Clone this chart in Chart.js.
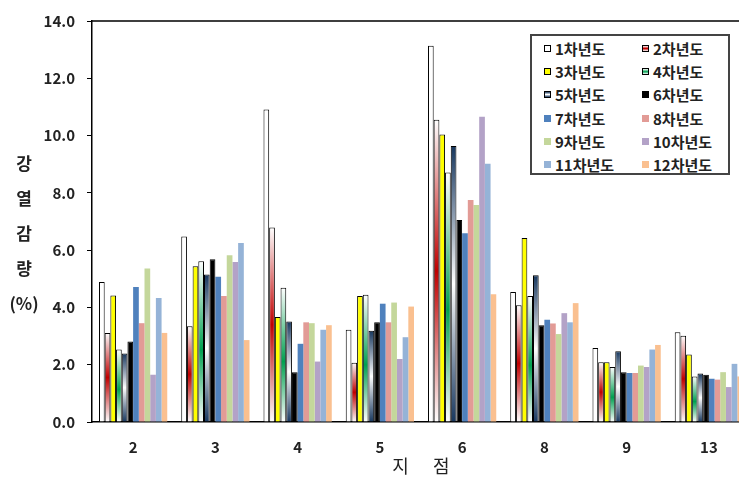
<!DOCTYPE html>
<html>
<head>
<meta charset="utf-8">
<script src="https://cdn.jsdelivr.net/npm/chart.js@4.4.0/dist/chart.umd.min.js"></script>
<style>
  html, body { margin: 0; padding: 0; background: #fff; overflow: hidden; }
  #wrap { position: relative; width: 760px; height: 484px; }
  #yTitle { position: absolute; left: 7px; top: 145px; width: 34px; text-align: center;
    font: bold 17px "Noto Sans CJK KR", sans-serif; color: #222; line-height: 35px; }
  #legend { position: absolute; left: 530px; top: 34px; width: 196px; height: 136px;
    border: 2px solid #444; background: #fff; padding-top: 1px;
    display: grid; grid-template-columns: 98px 98px; grid-auto-rows: 23.2px;
    font: bold 15px "Noto Sans CJK KR", sans-serif; color: #222; }
  #legend .item { display: flex; align-items: center; padding-left: 12px; white-space: nowrap; }
  #legend .box { width: 7px; height: 7px; margin-right: 4px; box-sizing: border-box; }
</style>
</head>
<body>
<div id="wrap">
  <canvas id="chart" width="760" height="484"></canvas>
  <div id="yTitle"><div>강</div><div>열</div><div>감</div><div>량</div><div>(%)</div></div>
  <div id="legend"></div>
</div>
<script>
const sites = ["2", "3", "4", "5", "6", "8", "9", "13"];
const yearNames = ["1차년도", "2차년도", "3차년도", "4차년도", "5차년도", "6차년도",
                   "7차년도", "8차년도", "9차년도", "10차년도", "11차년도", "12차년도"];

// 강열감량 (%) per year, one value per site
const year1  = [4.89, 6.48, 10.91, 3.22, 13.14, 4.54, 2.58, 3.13];
const year2  = [3.11, 3.34, 6.79, 2.07, 10.55, 4.08, 2.09, 3.01];
const year3  = [4.42, 5.44, 3.67, 4.40, 10.04, 6.42, 2.09, 2.36];
const year4  = [2.53, 5.61, 4.69, 4.44, 8.71, 4.40, 1.92, 1.59];
const year5  = [2.39, 5.15, 3.51, 3.19, 9.64, 5.12, 2.47, 1.69];
const year6  = [2.81, 5.68, 1.74, 3.48, 7.05, 3.38, 1.74, 1.65];
const year7  = [4.71, 5.07, 2.73, 4.13, 6.59, 3.57, 1.71, 1.51];
const year8  = [3.45, 4.40, 3.48, 3.48, 7.75, 3.44, 1.71, 1.48];
const year9  = [5.36, 5.82, 3.45, 4.17, 7.58, 3.07, 1.97, 1.74];
const year10 = [1.65, 5.59, 2.11, 2.20, 10.66, 3.80, 1.92, 1.22];
const year11 = [4.33, 6.25, 3.22, 2.96, 9.02, 3.48, 2.53, 2.03];
const year12 = [3.11, 2.86, 3.38, 4.03, 4.46, 4.15, 2.69, 1.59];

const yTicks = [0, 2, 4, 6, 8, 10, 12, 14];

const years = [year1, year2, year3, year4, year5, year6, year7, year8, year9, year10, year11, year12];

// fills: plain color or vertical gradient stops (top -> base)
const fills = [
  "#ffffff",
  [[0, "#ffffff"], [0.5, "#c00000"], [1, "#ffffff"]],
  "#ffff00",
  [[0, "#ffffff"], [0.55, "#00a050"], [1, "#ffffff"]],
  [[0, "#17375e"], [0.5, "#ffffff"], [1, "#17375e"]],
  "#000000",
  "#4f81bd", "#e29b96", "#c4d79b", "#b3a2c7", "#95b3d7", "#fac090"
];
const outlined = 6; // first 6 series have a black outline

function fillFor(f) {
  if (typeof f === "string") return f;
  return (ctx) => {
    const chart = ctx.chart;
    if (!chart.chartArea || ctx.type !== "data") return f[1][1];
    const y = chart.scales.y;
    const top = y.getPixelForValue(ctx.raw);
    const base = y.getPixelForValue(0);
    const g = chart.ctx.createLinearGradient(0, top, 0, base);
    f.forEach(([o, c]) => g.addColorStop(o, c));
    return g;
  };
}

function cssFill(f) {
  if (typeof f === "string") return f;
  return "linear-gradient(" + f.map(([o, c]) => c + " " + (o * 100) + "%").join(",") + ")";
}

// legend (2 columns, row-wise order like the original)
const legendDiv = document.getElementById("legend");
legendDiv.innerHTML = yearNames.map((name, i) => `
  <div class="item"><span class="box" style="background:${cssFill(fills[i])};${i < outlined ? "border:1px solid #000;" : ""}"></span>${name}</div>
`).join("");

// plot frame (top edge)
const framePlugin = {
  id: "frame",
  afterDatasetsDraw(chart) {
    const { ctx, chartArea: a } = chart;
    ctx.save();
    ctx.strokeStyle = "#000";
    ctx.lineWidth = 1.5;
    ctx.beginPath();
    ctx.moveTo(a.left, a.top);
    ctx.lineTo(a.right, a.top);
    ctx.lineTo(a.right, a.bottom);
    ctx.stroke();
    ctx.restore();
  }
};

const tickFont = { family: "'Noto Sans CJK KR', sans-serif", size: 15, weight: "bold" };

new Chart(document.getElementById("chart").getContext("2d"), {
  type: "bar",
  data: {
    labels: sites,
    datasets: years.map((vals, i) => ({
      label: yearNames[i],
      data: vals,
      backgroundColor: fillFor(fills[i]),
      borderColor: i < outlined ? "#000" : "rgba(0,0,0,0)",
      borderWidth: i < outlined ? 1 : 0,
      categoryPercentage: 0.83,
      barPercentage: 1.0
    }))
  },
  options: {
    responsive: false,
    animation: false,
    devicePixelRatio: 1,
    layout: { padding: { left: 0, right: 10, top: 19, bottom: 0 } },
    plugins: {
      legend: { display: false },
      tooltip: { enabled: false }
    },
    scales: {
      x: {
        grid: { display: false, drawTicks: false },
        border: { display: true, color: "#000", width: 1.5 },
        ticks: { font: tickFont, color: "#222", padding: 16 },
        title: {
          display: true,
          text: "지      점",
          color: "#222",
          font: { family: "'Noto Sans CJK KR', sans-serif", size: 18 },
          padding: { top: 0, bottom: 7 }
        },
        afterFit: (s) => { s.height = 62; }
      },
      y: {
        min: 0,
        max: 14,
        afterBuildTicks: (s) => { s.ticks = yTicks.map((v) => ({ value: v })); },
        ticks: { font: tickFont, color: "#222", padding: 12, callback: (v) => Number(v).toFixed(1) },
        grid: { drawOnChartArea: false, drawTicks: true, tickLength: 5, color: "#000" },
        border: { display: true, color: "#000", width: 1.5 },
        afterFit: (s) => { s.width = 92; }
      }
    }
  },
  plugins: [framePlugin]
});
</script>
</body>
</html>
